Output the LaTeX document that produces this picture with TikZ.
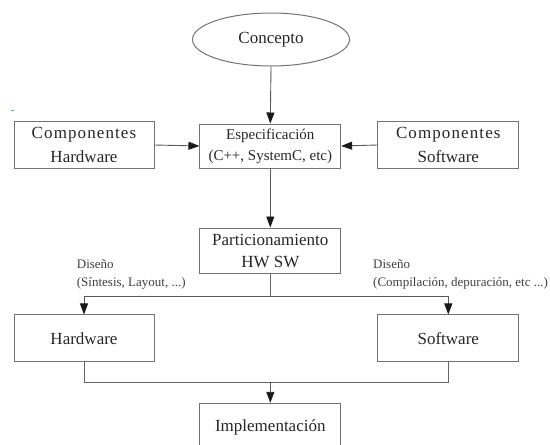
\documentclass[tikz,border=0pt]{standalone}
\usepackage{fontspec}
\setmainfont{Liberation Serif}
\usetikzlibrary{shapes.geometric,arrows.meta,calc}
\begin{document}
\begin{tikzpicture}[x=1pt,y=-1pt,
  box/.style={draw=black!55,line width=1pt,rectangle,inner sep=0pt,align=center,text=black!85,font=\fontsize{17}{22}\selectfont},
  lbl/.style={anchor=west,inner sep=0pt,text=black!75,font=\fontsize{13}{15}\selectfont},
  arr/.style={draw=black!65,line width=0.9pt,-{Triangle[length=11pt,width=8pt,color=black!90]}},
  ln/.style={draw=black!60,line width=1pt}]
\useasboundingbox (0,0) rectangle (550,445);
\clip (0,0) rectangle (550,445);
\node[box,ellipse,minimum width=157pt,minimum height=53pt] (concept) at (271,39.5) {Concepto};
\node[box,minimum width=140.7pt,minimum height=44pt,font=\fontsize{15}{21}\selectfont] (spec) at (270.3,146) {Especificación\\(C++, SystemC, etc)};
\node[box,minimum width=140pt,minimum height=46.3pt,font=\fontsize{17}{24}\selectfont] (chw) at (84,145) {{\addfontfeature{LetterSpace=6.5}Componentes}\\Hardware};
\node[box,minimum width=140.7pt,minimum height=46.3pt,font=\fontsize{17}{24}\selectfont] (csw) at (448.3,145) {{\addfontfeature{LetterSpace=6.5}Componentes}\\Software};
\node[box,minimum width=140.7pt,minimum height=45pt,font=\fontsize{17}{22}\selectfont] (part) at (270.3,250.5) {\raisebox{-3pt}{Particionamiento}\\\raisebox{-3pt}{HW SW}};
\node[box,minimum width=140pt,minimum height=46.7pt] (hw) at (84,338.3) {Hardware};
\node[box,minimum width=140.7pt,minimum height=46.7pt] (sw) at (448.3,338.3) {Software};
\node[box,minimum width=140.7pt,minimum height=48pt] (impl) at (270.3,427.3) {Implementación};
\node[lbl] (d1) at (76.7,264) {Diseño};
\node[lbl] (d1b) at (76.7,283) {(Síntesis, Layout, ...)};
\node[lbl] (d2) at (373,264) {Diseño};
\node[lbl] (d2b) at (373,283) {(Compilación, depuración, etc ...)};
\coordinate (split) at (270.3,296);
\coordinate (join) at (270.3,382.3);
\coordinate (speckA) at (11,110);
\coordinate (speckB) at (14,110);
\draw[arr] (concept.south) -- (spec.north);
\draw[arr] (chw.east) -- (spec.west);
\draw[arr] (csw.west) -- (spec.east);
\draw[arr] (spec.south) -- (part.north);
\draw[ln] (part.south) -- (split);
\draw[arr] (split) -| (hw.north);
\draw[arr] (split) -| (sw.north);
\draw[ln] (hw.south) |- (join) -| (sw.south);
\draw[arr] (join) -- (impl.north);
\draw[green!60!black!70,line width=0.8pt] (speckA) -- (speckB);
\end{tikzpicture}
\end{document}
